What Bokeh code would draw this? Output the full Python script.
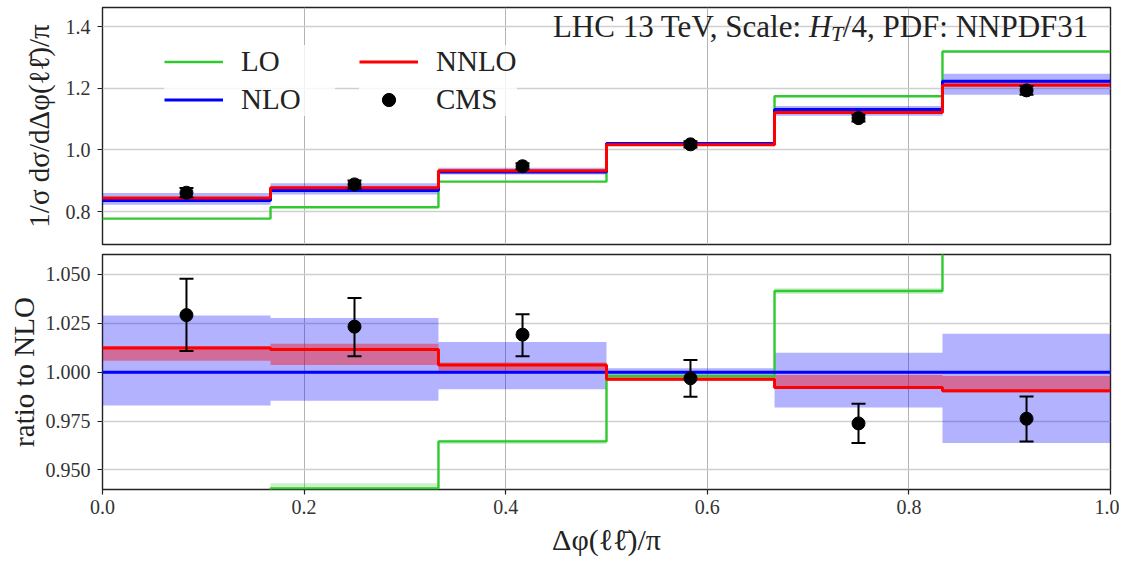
import numpy as np
from bokeh.plotting import figure
from bokeh.layouts import column
from bokeh.models import (ColumnDataSource, Whisker, TeeHead, Legend, LegendItem,
                          FixedTicker, NumeralTickFormatter, Range1d, Label)
from bokeh.embed import file_html
from bokeh.resources import INLINE

# ---------------- data ----------------
bin_edges = [0.0, 0.1667, 0.3333, 0.5, 0.6667, 0.8333, 1.0]
bin_centers = [0.0833, 0.25, 0.4167, 0.5833, 0.75, 0.9167]

# upper panel: normalised distribution
lo_top = [0.777, 0.814, 0.897, 1.019, 1.174, 1.319]
nlo_top = [0.836, 0.868, 0.928, 1.021, 1.131, 1.223]
nlo_top_lo = [0.822, 0.855, 0.920, 1.019, 1.111, 1.179]
nlo_top_hi = [0.860, 0.892, 0.942, 1.023, 1.142, 1.247]
nnlo_top = [0.844, 0.877, 0.932, 1.017, 1.121, 1.210]
nnlo_top_lo = [0.841, 0.871, 0.929, 1.016, 1.122, 1.210]
nnlo_top_hi = [0.847, 0.881, 0.933, 1.019, 1.129, 1.221]
cms_top = [0.861, 0.888, 0.947, 1.018, 1.103, 1.193]
cms_top_err = [0.015, 0.013, 0.010, 0.010, 0.011, 0.014]

# lower panel: ratio to NLO
lo_ratio = [0.930, 0.9406, 0.9646, 0.998, 1.0415, 1.080]
lo_ratio_lo = [0.928, 0.9400, 0.9633, 0.9965, 1.0400, 1.078]
lo_ratio_hi = [0.932, 0.9432, 0.9655, 0.9995, 1.0430, 1.082]
nlo_ratio = [1.0, 1.0, 1.0, 1.0, 1.0, 1.0]
nlo_ratio_lo = [0.983, 0.9854, 0.9913, 0.998, 0.982, 0.9638]
nlo_ratio_hi = [1.029, 1.0277, 1.0155, 1.002, 1.010, 1.0197]
nnlo_ratio = [1.0124, 1.0116, 1.0037, 0.9964, 0.9922, 0.9905]
nnlo_ratio_lo = [1.0058, 1.0037, 1.0007, 0.9955, 0.9918, 0.9896]
nnlo_ratio_hi = [1.0134, 1.0146, 1.0050, 0.9980, 0.9986, 0.9980]
cms_ratio = [1.0292, 1.0233, 1.0192, 0.9969, 0.9738, 0.9762]
cms_ratio_lo = [1.0109, 1.0082, 1.0082, 0.9874, 0.9638, 0.9646]
cms_ratio_hi = [1.0478, 1.0380, 1.0296, 1.0063, 0.9838, 0.9876]

x_ticks = [0.0, 0.2, 0.4, 0.6, 0.8, 1.0]
top_y_ticks = [0.8, 1.0, 1.2, 1.4]
ratio_y_ticks = [0.95, 0.975, 1.0, 1.025, 1.05]

FONT = "Liberation Serif"
GREEN = "#30c930"
BLUE = "#0000ff"
RED = "#ff0000"


def steps(v):
    return list(v) + [v[-1]]


def style(p):
    p.outline_line_color = "#222222"
    p.outline_line_width = 1.4
    p.background_fill_color = "white"
    p.border_fill_color = "white"
    p.xgrid.grid_line_color = "#b4b4b4"
    p.xgrid.grid_line_width = 1.0
    p.ygrid.grid_line_color = "#cfcfcf"
    p.ygrid.grid_line_width = 1.6
    for ax in (p.xaxis[0], p.yaxis[0]):
        ax.axis_line_color = None
        ax.major_tick_in = 0
        ax.major_tick_out = 5
        ax.minor_tick_out = 0
        ax.minor_tick_in = 0
        ax.major_tick_line_color = "#222222"
        ax.major_tick_line_width = 1.2
        ax.major_label_text_font = FONT
        ax.major_label_text_font_size = "20px"
        ax.major_label_text_color = "#333333"
        ax.axis_label_text_font = FONT
        ax.axis_label_text_font_size = "29px"
        ax.axis_label_text_font_style = "normal"
        ax.axis_label_text_color = "#222222"
        ax.major_label_standoff = 7


# ---------------- upper panel ----------------
p1 = figure(frame_width=1008, frame_height=237,
            x_range=Range1d(0, 1), y_range=Range1d(0.693, 1.462),
            output_backend="svg", toolbar_location=None,
            min_border_left=102, min_border_right=9, min_border_top=7, min_border_bottom=5)
style(p1)
p1.xaxis.ticker = FixedTicker(ticks=x_ticks, minor_ticks=[])
p1.xaxis.visible = False
p1.yaxis.ticker = FixedTicker(ticks=top_y_ticks, minor_ticks=[])
p1.yaxis.formatter = NumeralTickFormatter(format="0.0")
p1.yaxis.axis_label = "1/σ dσ/dΔφ(ℓℓ\u0304)/π"
p1.yaxis.axis_label_standoff = 8

p1.varea_step(x=bin_edges, y1=steps(nlo_top_lo), y2=steps(nlo_top_hi), step_mode="after",
              fill_color=BLUE, fill_alpha=0.3)
p1.varea_step(x=bin_edges, y1=steps(nnlo_top_lo), y2=steps(nnlo_top_hi), step_mode="after",
              fill_color=RED, fill_alpha=0.4)
r_lo = p1.step(x=bin_edges, y=steps(lo_top), mode="after", line_color=GREEN, line_width=2.4)
r_nlo = p1.step(x=bin_edges, y=steps(nlo_top), mode="after", line_color=BLUE, line_width=3)
r_nnlo = p1.step(x=bin_edges, y=steps(nnlo_top), mode="after", line_color=RED, line_width=3)

src_top = ColumnDataSource(dict(
    x=bin_centers, y=cms_top,
    lo=[c - e for c, e in zip(cms_top, cms_top_err)],
    hi=[c + e for c, e in zip(cms_top, cms_top_err)]))
w1 = Whisker(source=src_top, base="x", lower="lo", upper="hi", dimension="height",
             line_color="black", line_width=2, level="overlay",
             upper_head=TeeHead(size=14, line_color="black", line_width=2),
             lower_head=TeeHead(size=14, line_color="black", line_width=2))
p1.add_layout(w1)
r_cms = p1.scatter(x="x", y="y", source=src_top, marker="circle", size=13,
                   fill_color="black", line_color="black")
r_cms_bar = p1.scatter(x=[], y=[], marker="dash", angle=np.pi / 2, size=14,
                       line_color="black", line_width=2)

leg_kw = dict(glyph_width=59, glyph_height=33, label_height=33, label_standoff=18,
              spacing=5, padding=12, margin=0, background_fill_color="white",
              background_fill_alpha=0.8, border_line_color=None,
              label_text_font=FONT, label_text_font_size="29px", label_text_color="#222222")
leg1 = Legend(items=[LegendItem(label="LO", renderers=[r_lo]),
                     LegendItem(label="NLO", renderers=[r_nlo])],
              location=(62, 128), label_width=94, **leg_kw)
leg2 = Legend(items=[LegendItem(label="NNLO", renderers=[r_nnlo]),
                     LegendItem(label="CMS", renderers=[r_cms_bar, r_cms])],
              location=(257, 128), **leg_kw)
p1.add_layout(leg1)
p1.add_layout(leg2)

# annotation text, right-aligned at the top right of the panel
ann_kw = dict(x=0.978, y=1.4, x_units="data", y_units="data", text_align="right",
              text_baseline="middle", text_font=FONT, text_color="#222222")
p1.add_layout(Label(text="/4, PDF: NNPDF31", x_offset=0, text_font_size="31px", **ann_kw))
p1.add_layout(Label(text="T", x_offset=-245, y_offset=-7, text_font_size="22px",
                    text_font_style="italic", **ann_kw))
p1.add_layout(Label(text="H", x_offset=-257, text_font_size="31px",
                    text_font_style="italic", **ann_kw))
p1.add_layout(Label(text="LHC 13 TeV, Scale: ", x_offset=-279, text_font_size="31px", **ann_kw))

# ---------------- lower panel ----------------
p2 = figure(frame_width=1008, frame_height=235,
            x_range=p1.x_range, y_range=Range1d(0.94, 1.0602),
            output_backend="svg", toolbar_location=None,
            min_border_left=102, min_border_right=9, min_border_top=5, min_border_bottom=71)
style(p2)
p2.xaxis.ticker = FixedTicker(ticks=x_ticks, minor_ticks=[])
p2.xaxis.formatter = NumeralTickFormatter(format="0.0")
p2.xaxis.axis_label = "Δφ(ℓℓ\u0304)/π"
p2.xaxis.axis_label_text_font_size = "30px"
p2.xaxis.major_label_standoff = 5
p2.xaxis.axis_label_standoff = 6
p2.yaxis.ticker = FixedTicker(ticks=ratio_y_ticks, minor_ticks=[])
p2.yaxis.formatter = NumeralTickFormatter(format="0.000")
p2.yaxis.axis_label = "ratio to NLO"
p2.yaxis.axis_label_standoff = 3

p2.varea_step(x=bin_edges, y1=steps(nlo_ratio_lo), y2=steps(nlo_ratio_hi), step_mode="after",
              fill_color=BLUE, fill_alpha=0.3)
p2.varea_step(x=bin_edges, y1=steps(nnlo_ratio_lo), y2=steps(nnlo_ratio_hi), step_mode="after",
              fill_color=RED, fill_alpha=0.4)
p2.varea_step(x=bin_edges, y1=steps(lo_ratio_lo), y2=steps(lo_ratio_hi), step_mode="after",
              fill_color=GREEN, fill_alpha=0.25)
p2.step(x=bin_edges, y=steps(lo_ratio), mode="after", line_color=GREEN, line_width=2.4)
p2.step(x=bin_edges, y=steps(nlo_ratio), mode="after", line_color=BLUE, line_width=3)
p2.step(x=bin_edges, y=steps(nnlo_ratio), mode="after", line_color=RED, line_width=3)

src_ratio = ColumnDataSource(dict(x=bin_centers, y=cms_ratio, lo=cms_ratio_lo, hi=cms_ratio_hi))
w2 = Whisker(source=src_ratio, base="x", lower="lo", upper="hi", dimension="height",
             line_color="black", line_width=2, level="overlay",
             upper_head=TeeHead(size=14, line_color="black", line_width=2),
             lower_head=TeeHead(size=14, line_color="black", line_width=2))
p2.add_layout(w2)
p2.scatter(x="x", y="y", source=src_ratio, marker="circle", size=13,
           fill_color="black", line_color="black")

layout = column(p1, p2, spacing=0)
open("out.html", "w").write(file_html(layout, INLINE))
